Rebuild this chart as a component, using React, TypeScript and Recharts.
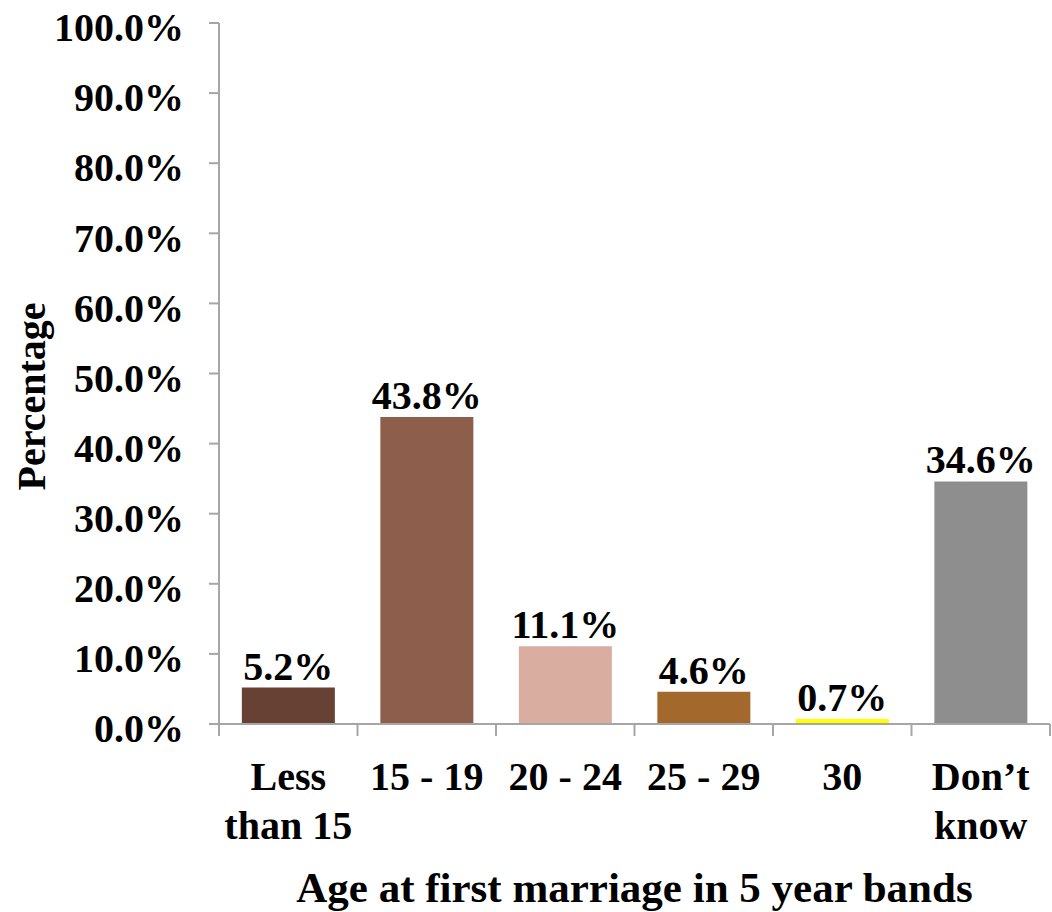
import React from 'react';
import { BarChart, Bar, XAxis, YAxis, Cell, LabelList, Label } from 'recharts';

const categories = ['Less\nthan 15', '15 - 19', '20 - 24', '25 - 29', '30', 'Don’t\nknow'];
const values = [5.2, 43.8, 11.1, 4.6, 0.7, 34.6];
const colors = ['#664134', '#8E5E4C', '#D9AEA0', '#A3682B', '#FFFF00', '#8E8E8E'];
const yTicks = [0, 10, 20, 30, 40, 50, 60, 70, 80, 90, 100];

const data = categories.map((c, i) => ({ name: c, value: values[i] }));

const FONT = '"Liberation Serif", "Times New Roman", serif';
const AXIS = '#A6A6A6';

const CatTick = (props: any) => {
  const { x, y, payload, index } = props;
  const half = payload && payload.offset ? payload.offset : 69.25;
  const lines = String(payload.value).split('\n');
  return (
    <g>
      <line x1={x - half} x2={x - half} y1={y} y2={y + 12} stroke={AXIS} strokeWidth={2} />
      {index === categories.length - 1 && (
        <line x1={x + half} x2={x + half} y1={y} y2={y + 12} stroke={AXIS} strokeWidth={2} />
      )}
      {lines.map((l, i) => (
        <text key={i} x={x} y={y + 66 + i * 49} textAnchor="middle" fontFamily={FONT} fontWeight="bold" fontSize={40} fill="#000">
          {l}
        </text>
      ))}
    </g>
  );
};

const YTitle = (props: any) => {
  const vb = props.viewBox || { x: 0, y: 23, width: 219, height: 701 };
  const cx = vb.x + 31;
  const cy = vb.y + vb.height / 2 + 23;
  return (
    <text transform={`translate(${cx}, ${cy}) rotate(-90)`} textAnchor="middle" dominantBaseline="central" fontFamily={FONT} fontWeight="bold" fontSize={40} fill="#000">
      Percentage
    </text>
  );
};

export default function App() {
  return (
    <div style={{ position: 'absolute', left: 0, top: 0, background: '#fff' }}>
      <BarChart width={1052} height={912} data={data} margin={{ top: 23, right: 2, left: 0, bottom: 0 }} barCategoryGap="16.5%">
        <XAxis
          dataKey="name"
          height={188}
          interval={0}
          tick={<CatTick />}
          tickLine={false}
          tickSize={0}
          tickMargin={0}
          axisLine={{ stroke: AXIS, strokeWidth: 2 }}
        >
          <Label value="Age at first marriage in 5 year bands" position="insideBottom" offset={10} style={{ fontFamily: FONT, fontWeight: 'bold', fontSize: 43, fill: '#000' }} />
        </XAxis>
        <YAxis
          width={219}
          domain={[0, 100]}
          ticks={yTicks}
          interval={0}
          tickFormatter={(v: number) => v.toFixed(1) + '%'}
          tickSize={10}
          tickMargin={25}
          tickLine={{ stroke: AXIS, strokeWidth: 2 }}
          axisLine={{ stroke: AXIS, strokeWidth: 2 }}
          tick={{ fontFamily: FONT, fontWeight: 'bold', fontSize: 40, fill: '#000', dy: 4 }}
        >
          <Label content={<YTitle />} />
        </YAxis>
        <Bar dataKey="value" isAnimationActive={false}>
          {data.map((d, i) => (
            <Cell key={i} fill={colors[i]} />
          ))}
          <LabelList dataKey="value" position="top" offset={8} formatter={(v: number) => v.toFixed(1) + '%'} style={{ fontFamily: FONT, fontWeight: 'bold', fontSize: 40, fill: '#000' }} />
        </Bar>
      </BarChart>
    </div>
  );
}
